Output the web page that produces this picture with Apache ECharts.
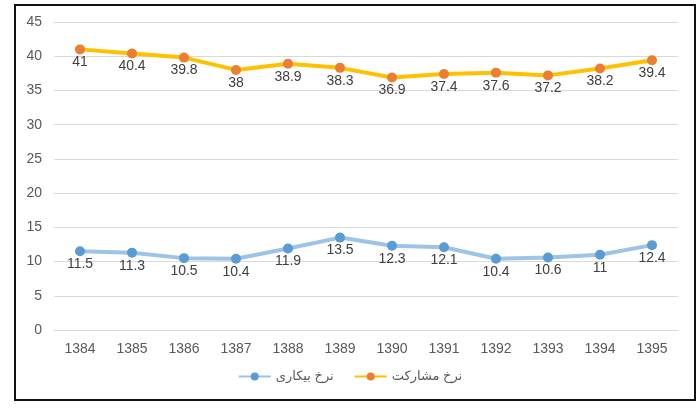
<!DOCTYPE html>
<html>
<head>
<meta charset="utf-8">
<script src="https://cdn.jsdelivr.net/npm/echarts@6/dist/echarts.min.js"></script>
<style>
  body { margin: 0; background: #fff; }
  #frame { position: absolute; left: 14px; top: 4px; width: 678px; height: 393px; border: 2px solid #111; }
  #chart { position: absolute; left: 0; top: 0; width: 700px; height: 410px; }
</style>
</head>
<body>
<div id="frame"></div>
<div id="chart"></div>
<script>
  // years and rates
  var years = ['1384', '1385', '1386', '1387', '1388', '1389', '1390', '1391', '1392', '1393', '1394', '1395'];
  var unemployment = [11.5, 11.3, 10.5, 10.4, 11.9, 13.5, 12.3, 12.1, 10.4, 10.6, 11, 12.4];
  var participation = [41, 40.4, 39.8, 38, 38.9, 38.3, 36.9, 37.4, 37.6, 37.2, 38.2, 39.4];
  var unemploymentName = 'نرخ بیکاری';
  var participationName = 'نرخ مشارکت';

  var font = 'Liberation Sans, DejaVu Sans, sans-serif';
  var chart = echarts.init(document.getElementById('chart'));

  chart.setOption({
    animation: false,
    textStyle: { fontFamily: font },
    grid: { left: 54, right: 22, top: 22, bottom: 80 },
    legend: {
      bottom: 22,
      left: 'center',
      itemWidth: 32,
      itemHeight: 10,
      itemGap: 20,
      textStyle: { color: '#595959', fontSize: 13, fontFamily: font },
      data: [unemploymentName, participationName]
    },
    xAxis: {
      type: 'category',
      data: years,
      axisLine: { lineStyle: { color: '#d9d9d9' } },
      axisTick: { show: false },
      axisLabel: { color: '#595959', fontSize: 14, margin: 12 }
    },
    yAxis: {
      type: 'value',
      min: 0,
      max: 45,
      interval: 5,
      axisLine: { show: false },
      axisTick: { show: false },
      axisLabel: { color: '#595959', fontSize: 14, margin: 12 },
      splitLine: { lineStyle: { color: '#d9d9d9', width: 1 } }
    },
    series: [
      {
        name: unemploymentName,
        type: 'line',
        data: unemployment,
        symbol: 'circle',
        symbolSize: 10,
        itemStyle: { color: '#5b9bd5' },
        lineStyle: { color: '#9dc3e6', width: 4 },
        label: { show: true, position: 'bottom', distance: 1, color: '#404040', fontSize: 14 }
      },
      {
        name: participationName,
        type: 'line',
        data: participation,
        symbol: 'circle',
        symbolSize: 10,
        itemStyle: { color: '#ed7d31' },
        lineStyle: { color: '#ffc000', width: 4 },
        label: { show: true, position: 'bottom', distance: 1, color: '#404040', fontSize: 14 }
      }
    ]
  });
</script>
</body>
</html>
